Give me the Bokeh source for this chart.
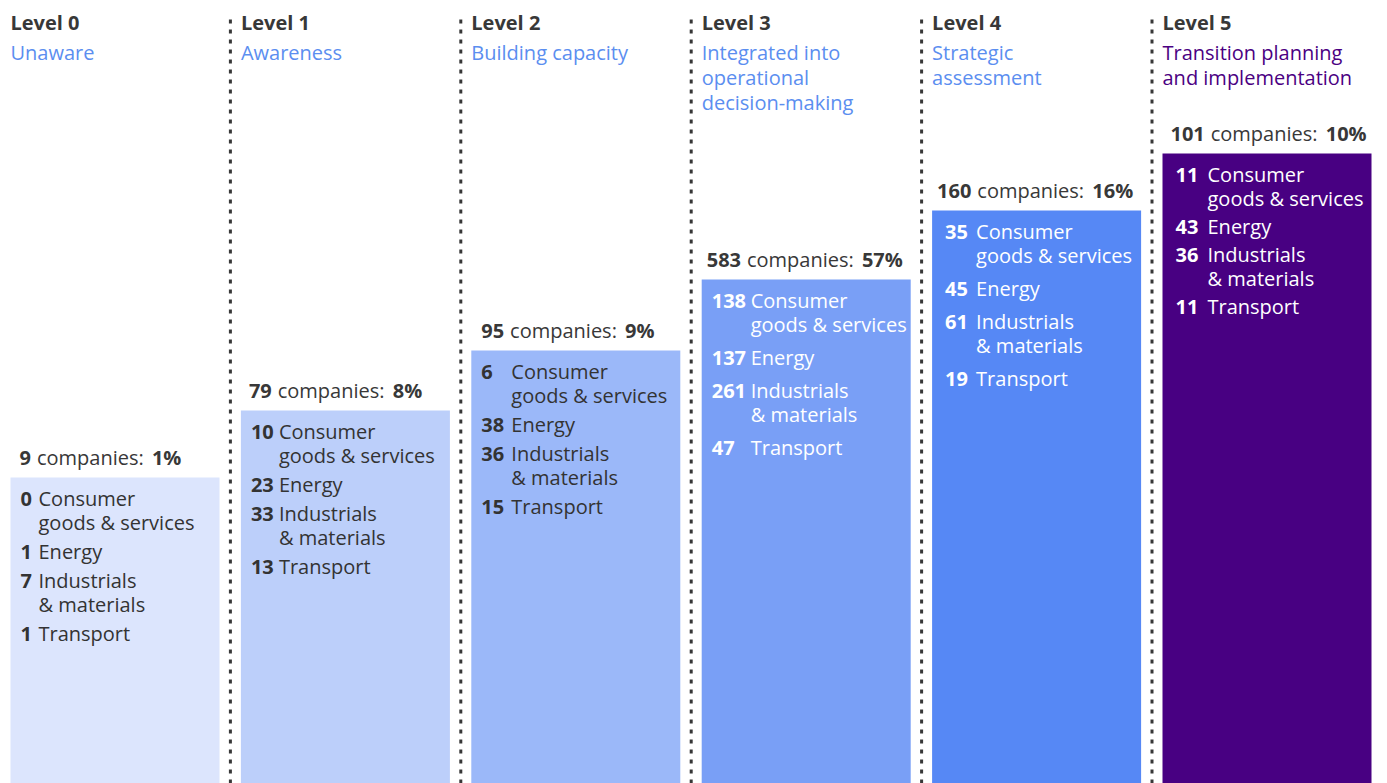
from bokeh.plotting import figure
from bokeh.models import Range1d, ColumnDataSource
from bokeh.core.properties import value
from bokeh.embed import file_html
from bokeh.resources import INLINE

# ---------------- data ----------------
levels = ["Level 0", "Level 1", "Level 2", "Level 3", "Level 4", "Level 5"]
stage_names = [
    ["Unaware"],
    ["Awareness"],
    ["Building capacity"],
    ["Integrated into", "operational", "decision-making"],
    ["Strategic", "assessment"],
    ["Transition planning", "and implementation"],
]
total_companies = [9, 79, 95, 583, 160, 101]
share_pct = [1, 8, 9, 57, 16, 10]
consumer = [0, 10, 6, 138, 35, 11]
energy = [1, 23, 38, 137, 45, 43]
industrials = [7, 33, 36, 261, 61, 36]
transport = [1, 13, 15, 47, 19, 11]
# height of each level's column (staircase)
column_height = [306, 373, 433, 504, 573, 630]

# ---------------- style / layout ----------------
W, H = 1387, 783
STEP = 230.4
BAR_W = 209
LEFT0 = 10
FONT = "Open Sans"
FS = "20px"
bar_colors = ["#dce5fd", "#bccffa", "#9bb8f9", "#799ff6", "#5688f5", "#480082"]
text_colors = ["#333333", "#333333", "#333333", "#ffffff", "#ffffff", "#ffffff"]
sub_colors = ["#5b8ef0"] * 5 + ["#4b0082"]
dark = "#383838"
num_pad = [10, 10, 10, 10, 13, 13]
lab_pad = [28, 38, 40, 49, 44, 45]
hdr_pad = [9, 8, 10, 5, 5, 8]
gap = [29, 29, 29, 33, 33, 28]
DIGIT_W = 11.4
COMP_W = 107

p = figure(width=W, height=H, output_backend="svg", toolbar_location=None,
           x_range=Range1d(0, W), y_range=Range1d(0, H), min_border=0)
p.axis.visible = False
p.grid.visible = False
p.outline_line_color = None
p.background_fill_color = "white"
p.border_fill_color = "white"

lefts = [LEFT0 + i * STEP for i in range(len(levels))]
centers = [l + BAR_W / 2 for l in lefts]

p.vbar(x=centers, width=BAR_W, bottom=0, top=column_height,
       fill_color=bar_colors, line_color=None)

# dotted separators
sep_x = [lefts[i] - 10.5 for i in range(1, len(levels))]
p.segment(x0=sep_x, y0=[0] * len(sep_x), x1=sep_x, y1=[H - 15] * len(sep_x),
          line_color=dark, line_width=3, line_dash="4 6")

def txt(xs, ys, texts, color, bold=False, align="left"):
    src = ColumnDataSource(dict(x=xs, y=ys, t=texts, c=color if isinstance(color, list) else [color] * len(xs)))
    p.text(x="x", y="y", text="t", source=src, text_color="c",
           text_font=value(FONT), text_font_size=FS,
           text_font_style="bold" if bold else "normal",
           text_baseline="middle", text_align=align)

# titles
txt(lefts, [H - 22] * 6, levels, dark, bold=True)
sx, sy, st, sc = [], [], [], []
for i, lines in enumerate(stage_names):
    for j, ln in enumerate(lines):
        sx.append(lefts[i]); sy.append(H - 52 - 25 * j); st.append(ln); sc.append(sub_colors[i])
txt(sx, sy, st, sc)

# headers: "N companies: P%"
hx, hy, ht = [], [], []
cx, cy, ct = [], [], []
for i in range(6):
    top = column_height[i]
    y = top + 20
    x0 = lefts[i] + hdr_pad[i]
    hx.append(x0); hy.append(y); ht.append(str(total_companies[i]))
    x1 = x0 + DIGIT_W * len(str(total_companies[i])) + 6
    cx.append(x1); cy.append(y); ct.append("companies:")
    x2 = x1 + COMP_W + 8
    hx.append(x2); hy.append(y); ht.append(f"{share_pct[i]}%")
txt(hx, hy, ht, dark, bold=True)
txt(cx, cy, ct, dark)

# sector breakdown inside bars
nx, ny, nt, nc = [], [], [], []
lx, ly, lt, lc = [], [], [], []
for i in range(6):
    top = column_height[i]
    g = gap[i]
    rows = [
        (consumer[i], ["Consumer", "goods & services"]),
        (energy[i], ["Energy"]),
        (industrials[i], ["Industrials", "& materials"]),
        (transport[i], ["Transport"]),
    ]
    off = 21
    for k, (num, lines) in enumerate(rows):
        nx.append(lefts[i] + num_pad[i]); ny.append(top - off); nt.append(str(num)); nc.append(text_colors[i])
        for j, ln in enumerate(lines):
            lx.append(lefts[i] + lab_pad[i]); ly.append(top - off - 24 * j); lt.append(ln); lc.append(text_colors[i])
        off += 24 * (len(lines) - 1) + g
txt(nx, ny, nt, nc, bold=True)
txt(lx, ly, lt, lc)

open("out.html", "w").write(file_html(p, INLINE))
